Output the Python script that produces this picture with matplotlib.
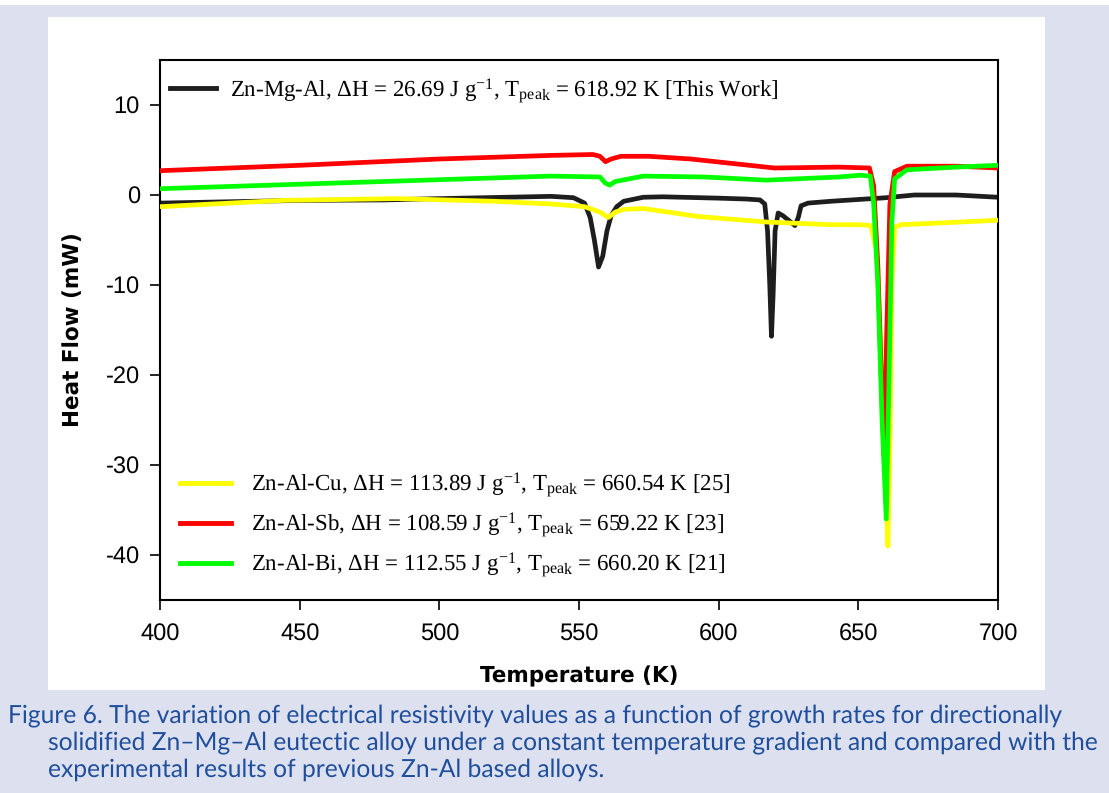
import matplotlib
matplotlib.use("Agg")
import matplotlib.pyplot as plt
from matplotlib.patches import Rectangle

# ---------------- data ----------------
t_mgal = [400, 450, 480, 500, 540, 548, 552, 554, 555.5, 557, 558.5, 560, 561.5, 563.5, 566, 573, 580,
          600, 610, 614.8, 616.5, 617.5, 618.3, 618.9, 619.5, 620.2, 621.3, 623, 625, 627.3, 628.5, 629.5,
          632, 640, 660, 670, 685, 700]
v_mgal = [-0.9, -0.6, -0.55, -0.4, -0.15, -0.3, -0.9, -2.5, -5.0, -8.0, -6.8, -4.0, -2.3, -1.3, -0.7, -0.25, -0.2,
          -0.35, -0.45, -0.55, -1.0, -4.0, -10.0, -15.7, -11.0, -4.0, -2.0, -2.3, -2.8, -3.4, -2.5, -1.2,
          -0.9, -0.7, -0.3, 0.0, 0.0, -0.25]

t_cu = [400, 444, 485, 520, 540, 552, 557.5, 560.5, 563, 566, 573, 593, 617, 640, 650.6, 654.5, 656.6,
        658.2, 659.6, 660.6, 661.3, 662, 663, 665, 680, 700]
v_cu = [-1.3, -0.6, -0.4, -0.7, -1.0, -1.3, -1.9, -2.5, -1.9, -1.6, -1.5, -2.4, -3.0, -3.3, -3.3, -3.4, -6.3,
        -18.0, -30.0, -39.0, -28.0, -10.0, -3.6, -3.3, -3.1, -2.8]

t_sb = [400, 450, 500, 540, 555, 557.5, 559.5, 561.5, 565, 575, 590, 620, 643, 654, 655.5, 657, 658.2,
        659.2, 660.2, 661.3, 663, 667.4, 685, 700]
v_sb = [2.7, 3.3, 4.0, 4.4, 4.5, 4.3, 3.7, 4.0, 4.3, 4.3, 4.0, 3.0, 3.1, 3.0, 1.0, -8.0, -20.0,
        -29.0, -15.0, -1.0, 2.6, 3.2, 3.2, 3.0]

t_bi = [400, 450, 500, 540, 557.5, 559.5, 561, 563, 573, 595, 617, 643, 650.6, 654.3, 655.5, 657, 658.5,
        660.0, 661.0, 662, 663, 667.4, 685, 700]
v_bi = [0.7, 1.2, 1.7, 2.1, 2.0, 1.3, 1.1, 1.5, 2.1, 2.0, 1.65, 2.0, 2.2, 2.1, -1.0, -10.0, -25.0,
        -36.0, -20.0, -3.0, 1.8, 2.8, 3.1, 3.3]

lbl_mgal = "Zn-Mg-Al, ΔH = 26.69 J g$^{\\mathregular{-1}}$, T$_{\\mathregular{peak}}$ = 618.92 K [This Work]"
lbl_cu = "Zn-Al-Cu, ΔH = 113.89 J g$^{\\mathregular{-1}}$, T$_{\\mathregular{peak}}$ = 660.54 K [25]"
lbl_sb = "Zn-Al-Sb, ΔH = 108.59 J g$^{\\mathregular{-1}}$, T$_{\\mathregular{peak}}$ = 659.22 K [23]"
lbl_bi = "Zn-Al-Bi, ΔH = 112.55 J g$^{\\mathregular{-1}}$, T$_{\\mathregular{peak}}$ = 660.20 K [21]"

x_ticks = [400, 450, 500, 550, 600, 650, 700]
y_ticks = [-40, -30, -20, -10, 0, 10]

caption_lines = [
    "Figure 6. The variation of electrical resistivity values as a function of growth rates for directionally",
    "solidified Zn\u2013Mg\u2013Al eutectic alloy under a constant temperature gradient and compared with the",
    "experimental results of previous Zn-Al based alloys.",
]

# ---------------- figure ----------------
plt.rcParams["mathtext.fontset"] = "custom"
plt.rcParams["mathtext.rm"] = "Liberation Serif"
plt.rcParams["mathtext.it"] = "Liberation Serif:italic"
plt.rcParams["axes.unicode_minus"] = False
plt.rcParams["text.hinting"] = "no_hinting"

W, H = 1109, 793
fig = plt.figure(figsize=(W / 100, H / 100), dpi=100)
bg = "#dde0ef"
fig.patch.set_facecolor(bg)

def fx(px):
    return px / W

def fy(py):
    return 1 - py / H

# white strip at very top and white panel
fig.patches.append(Rectangle((0, fy(5)), 1, 5 / H, transform=fig.transFigure,
                             facecolor="white", edgecolor="none", zorder=-10))
fig.patches.append(Rectangle((fx(48), fy(690)), (1045 - 48) / W, (690 - 17) / H,
                             transform=fig.transFigure, facecolor="white", edgecolor="none", zorder=-10))

ax = fig.add_axes([fx(160), fy(600), (998 - 160) / W, (600 - 60) / H])
ax.set_zorder(1)
ax.set_facecolor("white")

lw = 3.4
l_mgal, = ax.plot(t_mgal, v_mgal, color="#1e1e1e", lw=lw, zorder=2, label=lbl_mgal,
                  solid_joinstyle="round")
l_cu, = ax.plot(t_cu, v_cu, color="#ffff00", lw=lw, zorder=3, label=lbl_cu, solid_joinstyle="round")
l_sb, = ax.plot(t_sb, v_sb, color="#ff0000", lw=lw, zorder=4, label=lbl_sb, solid_joinstyle="round")
l_bi, = ax.plot(t_bi, v_bi, color="#00ff00", lw=lw, zorder=5, label=lbl_bi, solid_joinstyle="round")

ax.set_xlim(400, 700)
ax.set_ylim(-45, 15)
ax.set_xticks(x_ticks)
ax.set_yticks(y_ticks)
ax.tick_params(axis="both", direction="out", length=7.5, width=1.2, labelsize=17,
               top=False, right=False)
ax.yaxis.set_tick_params(pad=7)
ax.xaxis.set_tick_params(pad=9)
for lab in ax.get_xticklabels() + ax.get_yticklabels():
    lab.set_family("Liberation Sans")
for s in ax.spines.values():
    s.set_linewidth(1.5)
    s.set_color("black")

ax.set_xlabel("Temperature (K)", fontsize=15.5, fontweight="bold", family="DejaVu Sans", labelpad=15)
ax.set_ylabel("Heat Flow (mW)", fontsize=15.5, fontweight="bold", family="DejaVu Sans", labelpad=16)

lfont = {"family": "Liberation Serif", "size": 16.5}
leg1 = ax.legend(handles=[l_mgal], loc="center left", bbox_to_anchor=(0.012, 0.943),
                 frameon=False, prop=lfont, handlelength=2.0, handletextpad=0.6,
                 borderpad=0, borderaxespad=0)
ax.add_artist(leg1)
leg2 = ax.legend(handles=[l_cu, l_sb, l_bi], loc="center left", bbox_to_anchor=(0.024, 0.139),
                 frameon=False, prop=lfont, handlelength=2.2, handletextpad=0.9,
                 labelspacing=0.5, borderpad=0, borderaxespad=0)
for lh in leg1.get_lines() + leg2.get_lines():
    lh.set_linewidth(3.5)

# caption
cap_color = "#1f4f9c"
cap_y = [716, 743, 770]
cap_x = [8, 48, 48]
for txt, x, y in zip(caption_lines, cap_x, cap_y):
    fig.text(fx(x), fy(y), txt, color=cap_color, fontsize=17.7, family="Lato",
             ha="left", va="center")

fig.savefig("out.png", dpi=100, facecolor=bg)
